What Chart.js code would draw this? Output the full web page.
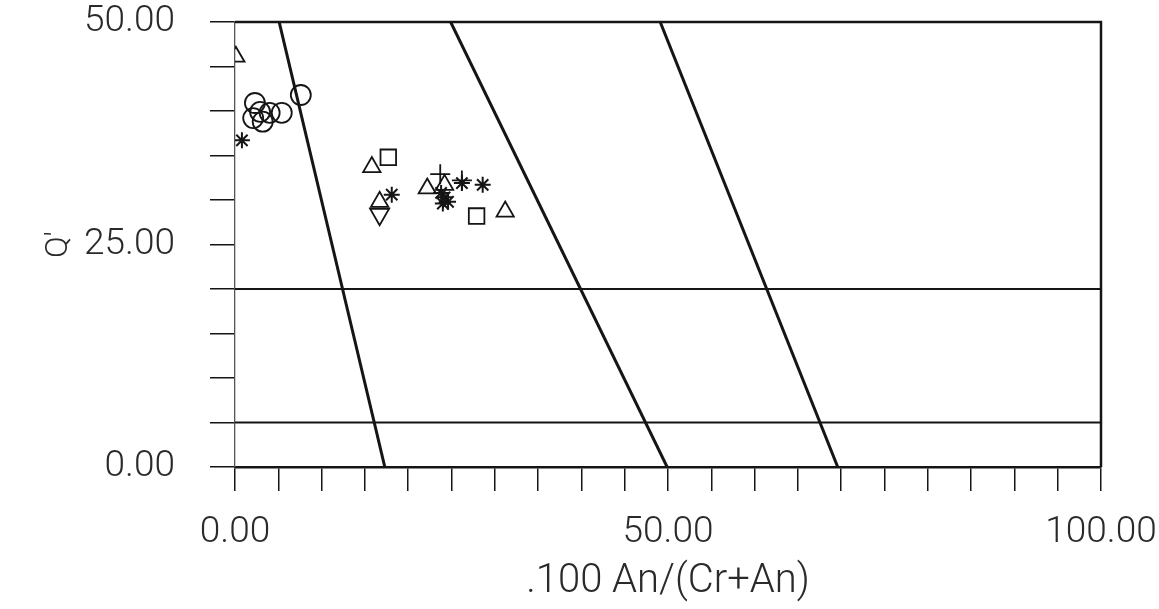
<!DOCTYPE html>
<html>
<head>
<meta charset="utf-8">
<script src="https://cdn.jsdelivr.net/npm/chart.js@4.4.1/dist/chart.umd.min.js"></script>
<style>
  html, body { margin: 0; padding: 0; background: #ffffff; }
  #wrap { width: 1159px; height: 609px; }
</style>
</head>
<body>
<div id="wrap"><canvas id="c" width="1159" height="609"></canvas></div>
<script>
// ---- data ----
const xTitle = ".100 An/(Cr+An)";
const yTitle = "Q'";
const xLabelsAt = [0, 50, 100];
const yLabelsAt = [0, 25, 50];

const circles = [[7.6, 41.8], [2.3, 40.9], [2.9, 39.9], [4.0, 39.8], [5.4, 39.8], [2.1, 39.2], [3.2, 38.8]];
const triangles = [[0.1, 46.1], [15.8, 33.7], [22.2, 31.3], [24.2, 31.7], [31.2, 28.7], [16.7, 29.8]];
const downTriangles = [[16.7, 28.4]];
const squares = [[17.7, 34.8], [27.9, 28.2]];
const stars = [[0.8, 36.7], [18.1, 30.6], [24.2, 30.3], [23.8, 30.8], [24.6, 29.8], [24.0, 29.6], [26.2, 31.9], [28.6, 31.7]];
const crosses = [[23.7, 32.9], [26.2, 32.2]];

// field boundary lines: [x1, y1, x2, y2]
const boundaries = [
  [5.1, 50, 17.3, 0],
  [24.9, 50, 49.9, 0],
  [49.1, 50, 69.6, 0],
  [0, 20, 100, 20],
  [0, 5, 100, 5]
];
const boundaryWidths = [3, 3, 3, 2, 2];

const INK = '#151515';
const FONT = "Roboto, 'Liberation Sans', sans-serif";

const toPts = arr => arr.map(p => ({x: p[0], y: p[1]}));

function markerSet(arr, style, radius, rotation, width) {
  return {
    type: 'scatter',
    data: toPts(arr),
    pointStyle: style,
    pointRadius: radius,
    pointRotation: rotation || 0,
    borderColor: INK,
    backgroundColor: 'rgba(0,0,0,0)',
    pointBorderWidth: width || 1.8,
    borderWidth: width || 1.8
  };
}

const datasets = [];
boundaries.forEach((b, i) => {
  datasets.push({
    type: 'line',
    data: [{x: b[0], y: b[1]}, {x: b[2], y: b[3]}],
    borderColor: INK,
    borderWidth: boundaryWidths[i],
    pointRadius: 0,
    fill: false,
    tension: 0
  });
});
datasets.push(markerSet(circles, 'circle', 10));
datasets.push(markerSet(triangles, 'triangle', 10));
datasets.push(markerSet(downTriangles, 'triangle', 11, 180));
datasets.push(markerSet(squares, 'rect', 11));
datasets.push(markerSet(stars, 'star', 8, 0, 2));
datasets.push(markerSet(crosses, 'cross', 10));

const framePlugin = {
  id: 'frame',
  beforeDraw(chart) {
    const ctx = chart.ctx;
    ctx.save();
    ctx.fillStyle = '#ffffff';
    ctx.fillRect(0, 0, chart.width, chart.height);
    ctx.restore();
  },
  afterDatasetsDraw(chart) {
    const {ctx, chartArea} = chart;
    ctx.save();
    ctx.strokeStyle = INK;
    ctx.lineWidth = 2.5;
    ctx.beginPath();
    ctx.moveTo(chartArea.left, chartArea.top);
    ctx.lineTo(chartArea.right, chartArea.top);
    ctx.lineTo(chartArea.right, chartArea.bottom);
    ctx.stroke();
    ctx.restore();
  }
};

new Chart(document.getElementById('c'), {
  type: 'scatter',
  data: { datasets },
  options: {
    responsive: false,
    animation: false,
    events: [],
    layout: { padding: { top: 22, right: 58, bottom: 0, left: 0 } },
    plugins: { legend: { display: false }, tooltip: { enabled: false } },
    scales: {
      x: {
        type: 'linear', min: 0, max: 100,
        ticks: {
          stepSize: 5, autoSkip: false, maxRotation: 0,
          callback: v => xLabelsAt.includes(v) ? v.toFixed(2) : '',
          font: { family: FONT, size: 37, weight: 300 }, color: '#2a2a2a', padding: 20
        },
        grid: { drawOnChartArea: false, tickLength: 24, color: INK, lineWidth: 1.5 },
        border: { color: INK, width: 2.5 },
        title: { display: true, text: xTitle, font: { family: FONT, size: 40, weight: 300 }, color: '#2a2a2a', padding: { top: 0, bottom: 3 } },
        afterFit: s => { s.height = 142; s.paddingLeft = 0; s.paddingRight = 0; }
      },
      y: {
        type: 'linear', min: 0, max: 50,
        ticks: {
          stepSize: 5, autoSkip: false,
          callback: v => yLabelsAt.includes(v) ? v.toFixed(2) : '',
          font: { family: FONT, size: 37, weight: 300 }, color: '#2a2a2a', padding: 35
        },
        grid: { drawOnChartArea: false, tickLength: 25, color: INK, lineWidth: 1.5 },
        border: { color: '#555', width: 1.3, dash: [7, 3, 2, 3] },
        title: { display: true, text: yTitle, font: { family: FONT, size: 32, weight: 300 }, color: '#2a2a2a', padding: { top: 40, bottom: 0 } },
        afterFit: s => { s.width = 235; s.paddingTop = 0; s.paddingBottom = 0; }
      }
    }
  },
  plugins: [framePlugin]
});
</script>
</body>
</html>
